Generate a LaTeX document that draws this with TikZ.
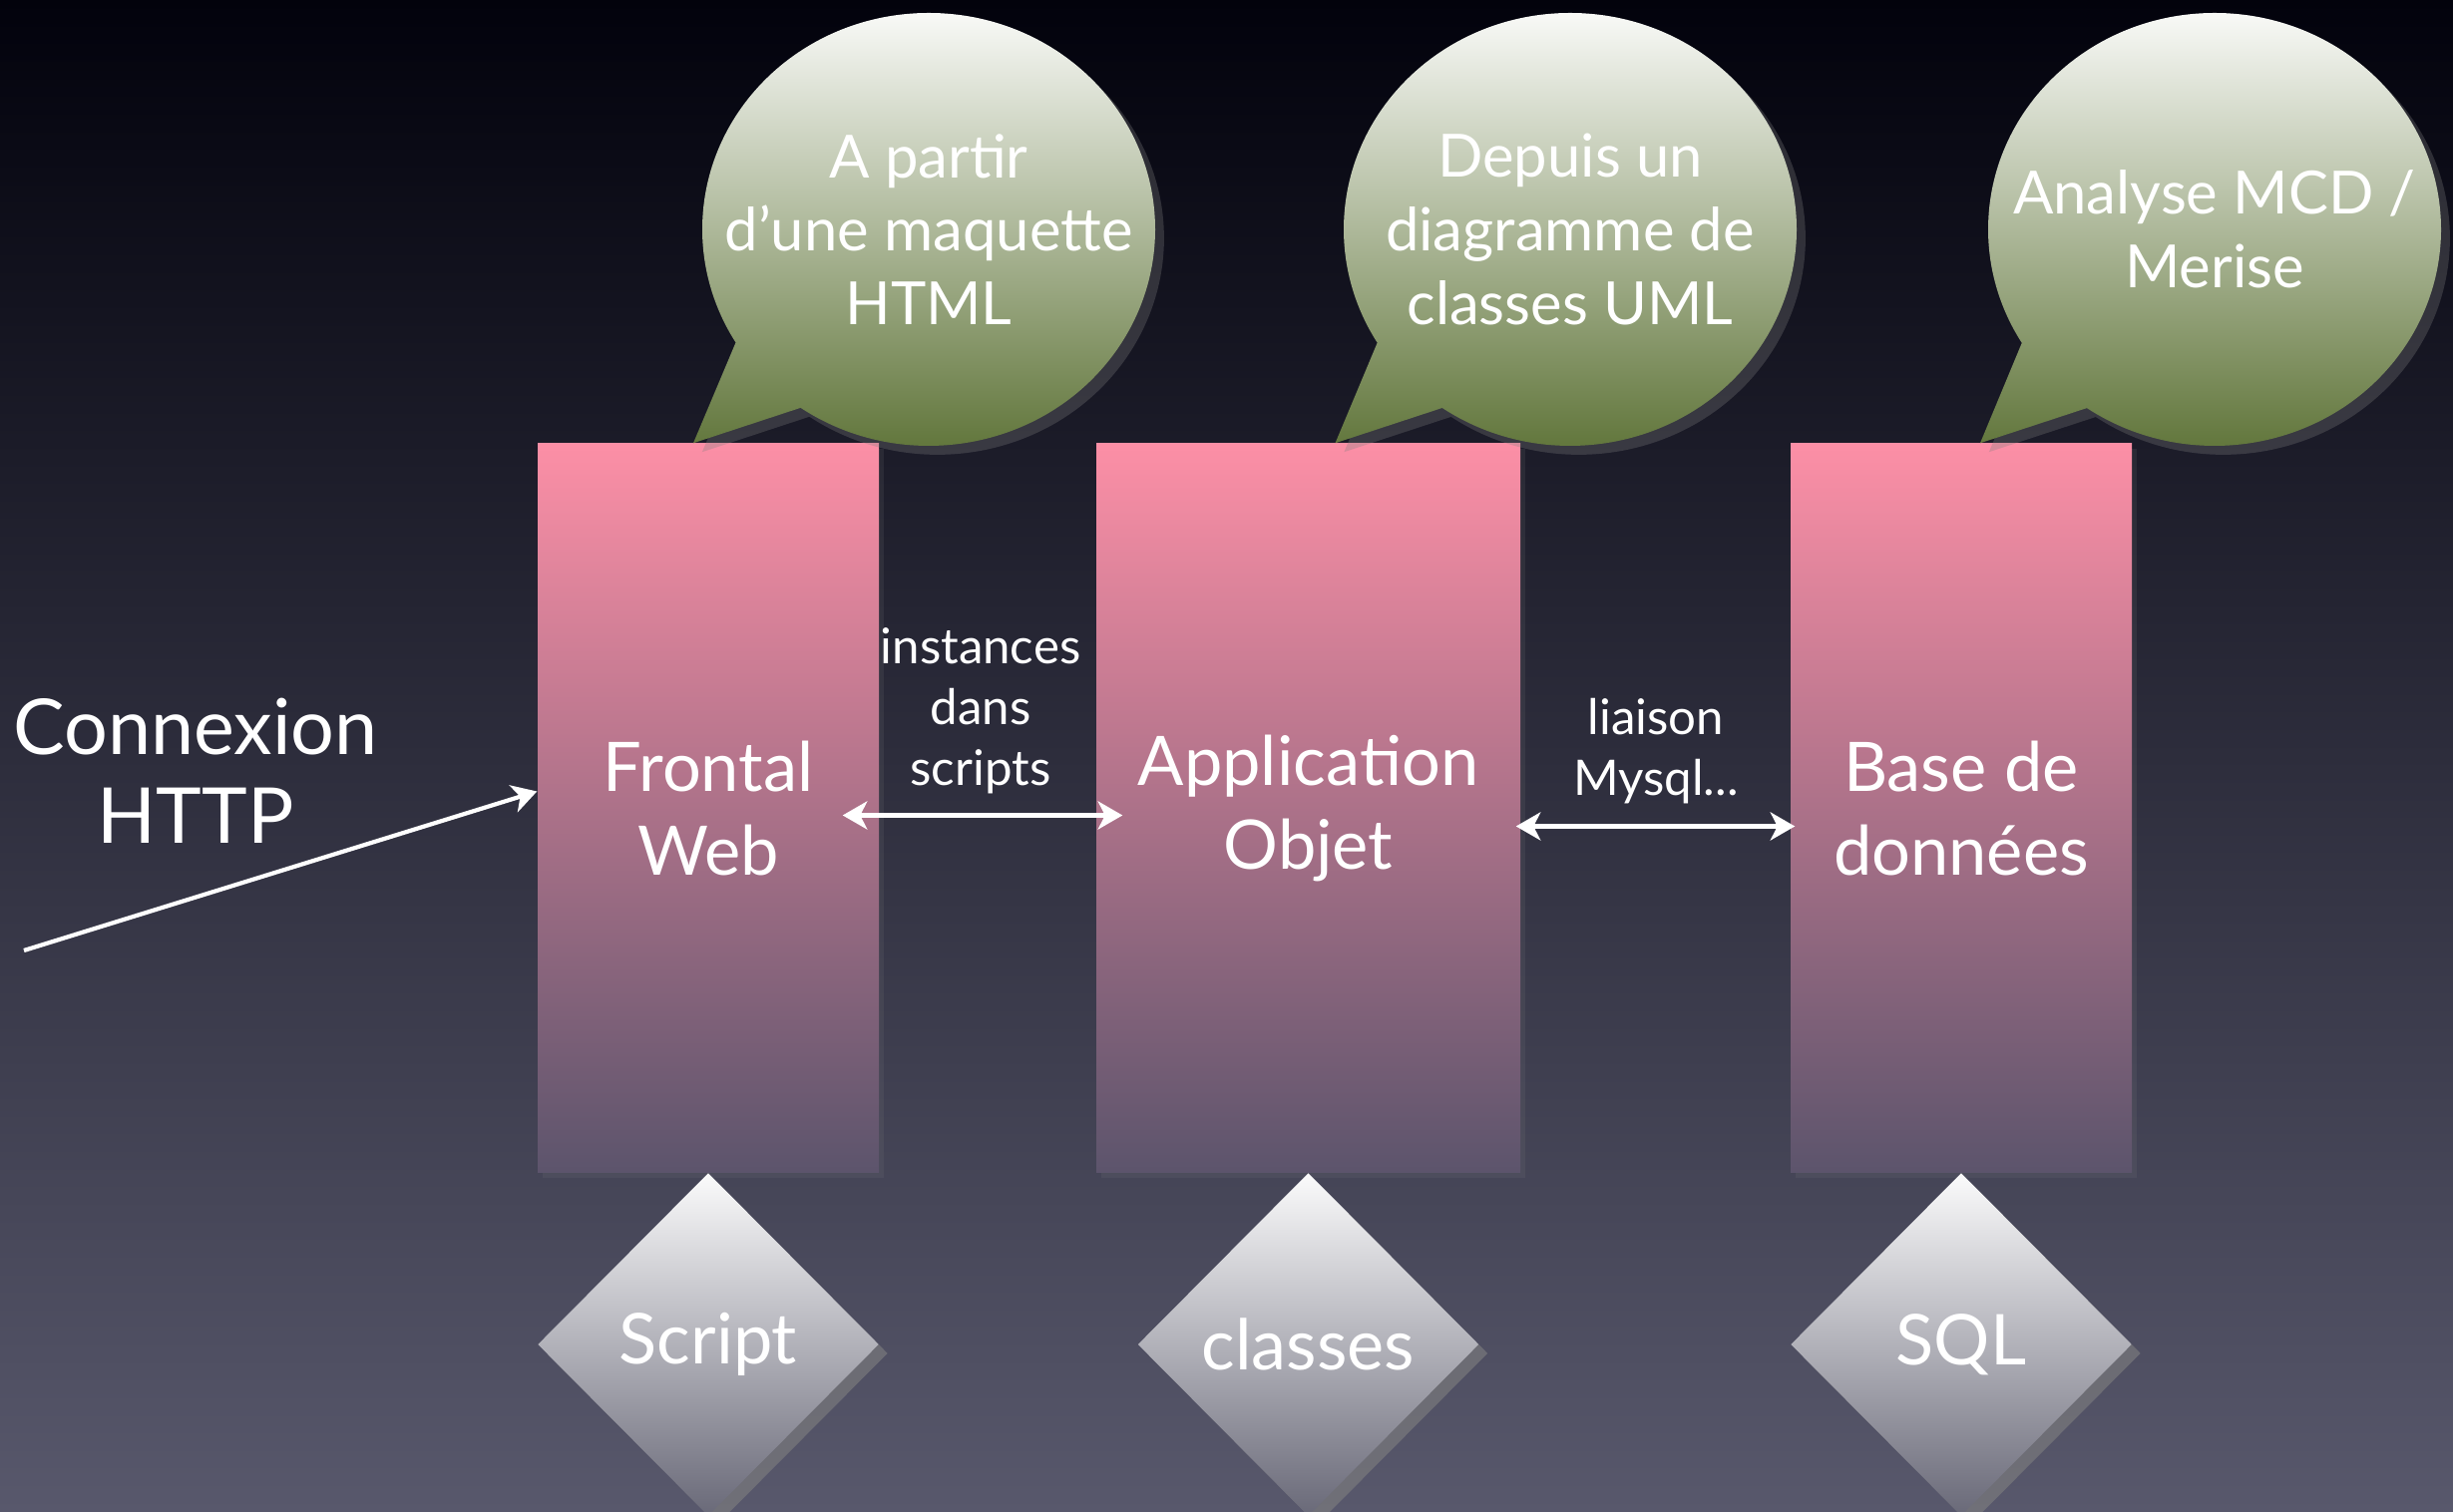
\documentclass[tikz,border=0pt]{standalone}
\usepackage{fontspec}
\setmainfont{Lato}
\usetikzlibrary{shapes.geometric,shapes.callouts,shadows,arrows.meta}
\definecolor{fondhaut}{RGB}{2,2,12}
\definecolor{fondbas}{RGB}{88,88,108}
\definecolor{rose}{RGB}{252,143,166}
\definecolor{mauve}{RGB}{92,84,108}
\definecolor{olive}{RGB}{88,110,48}
\definecolor{gris}{RGB}{105,105,120}

\begin{document}
\begin{tikzpicture}[
  bloc/.style={rectangle,minimum height=7.31cm,top color=rose,bottom color=mauve,text=white,align=center,font=\fontsize{19.5}{24}\selectfont,drop shadow={opacity=0.15,shadow xshift=0.3ex,shadow yshift=-0.3ex}},
  bulle/.style={ellipse callout,inner sep=-0.6cm,minimum width=4.54cm,minimum height=4.34cm,callout pointer arc=24,top color=white!96!olive,bottom color=olive,text=white,align=center,font=\fontsize{17}{21}\selectfont,drop shadow={opacity=0.3}},
  losange/.style={diamond,minimum width=3.42cm,minimum height=3.44cm,inner sep=0pt,top color=white!97!gris,bottom color=gris,text=white,font=\fontsize{20}{24}\selectfont,drop shadow={opacity=0.6}},
  lien/.style={white,very thick,<->,>={Stealth[length=7pt,width=8pt,inset=2pt]}}]
\useasboundingbox (0,0) rectangle (24.59,15.16);
\shade [top color=fondhaut,bottom color=fondbas] (0,0) rectangle (24.59,15.16);
% les trois couches
\node [bloc,minimum width=3.42cm] (frontal) at (7.10,7.055) {Frontal\\Web};
\node [bloc,minimum width=4.25cm] (appli) at (13.115,7.055) {Application\\Objet};
\node [bloc,minimum width=3.42cm] (base) at (19.66,7.055) {Base de\\donn\'ees};
% losanges
\node [losange] (script) at (7.10,1.68) {Script};
\node [losange] (classes) at (13.115,1.68) {classes};
\node [losange] (sql) at (19.66,1.68) {SQL};
% bulles
\node [bulle,callout absolute pointer={([xshift=-0.15cm]frontal.north)}] (maquette) at (9.31,12.86) {A partir\\d’une maquette\\HTML};
\node [bulle,callout absolute pointer={([xshift=0.27cm]appli.north)}] (uml) at (15.74,12.86) {Depuis un\\diagramme de\\classes UML};
\node [bulle,callout absolute pointer={([xshift=0.19cm]base.north)}] (merise) at (22.20,12.86) {Analyse MCD /\\Merise};
% liens
\node [text=white,align=center,font=\fontsize{22}{25.5}\selectfont] (http) at (1.96,7.43) {Connexion\\HTTP};
\coordinate (client) at (0.24,5.63);
\draw [lien,-{Stealth[length=7pt,width=8pt,inset=2pt]}] (client) -- ([yshift=0.17cm]frontal.west);
\node [text=white,align=center,font=\fontsize{14}{17.4}\selectfont] (instances) at (9.83,8.03) {instances\\dans\\scripts};
\draw [lien,shorten <=-0.37cm,shorten >=-0.27cm] ([yshift=-0.07cm]frontal.east) -- ([yshift=-0.07cm]appli.west);
\node [text=white,align=center,font=\fontsize{14}{17.4}\selectfont] (mysql) at (16.60,7.63) {liaison\\Mysql...};
\draw [lien,shorten <=-0.05cm,shorten >=-0.05cm] ([yshift=-0.18cm]appli.east) -- ([yshift=-0.18cm]base.west);
\end{tikzpicture}
\end{document}
